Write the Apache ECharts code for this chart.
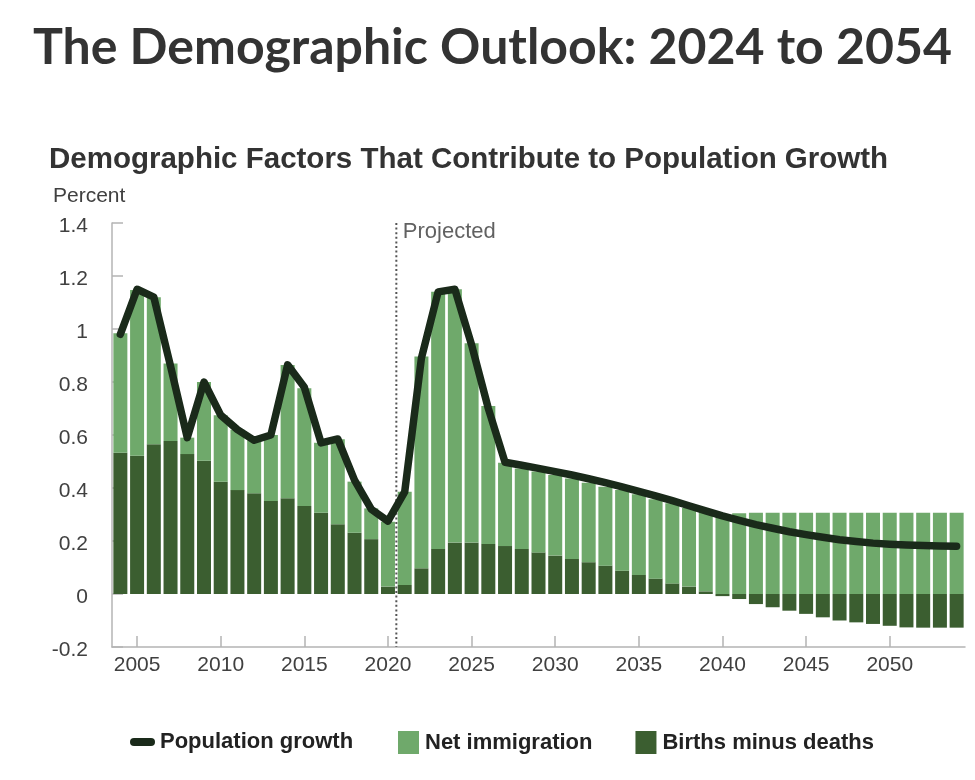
<!DOCTYPE html>
<html>
<head>
<meta charset="utf-8">
<script src="https://cdn.jsdelivr.net/npm/echarts@6/dist/echarts.min.js"></script>
<style>
  html, body { margin: 0; padding: 0; background: #fff; }
  #chart { width: 975px; height: 780px; }
</style>
</head>
<body>
<div id="chart"></div>
<script>
// years on the x axis, 2004 to 2054
var years = ['2004', '2005', '2006', '2007', '2008', '2009', '2010', '2011', '2012', '2013',
  '2014', '2015', '2016', '2017', '2018', '2019', '2020', '2021', '2022', '2023',
  '2024', '2025', '2026', '2027', '2028', '2029', '2030', '2031', '2032', '2033',
  '2034', '2035', '2036', '2037', '2038', '2039', '2040', '2041', '2042', '2043',
  '2044', '2045', '2046', '2047', '2048', '2049', '2050', '2051', '2052', '2053', '2054'];

// births minus deaths, percent
var birthsMinusDeaths = [0.533, 0.522, 0.565, 0.577, 0.528, 0.503, 0.424, 0.392, 0.380, 0.351,
  0.361, 0.332, 0.307, 0.263, 0.231, 0.207, 0.028, 0.034, 0.097, 0.170,
  0.194, 0.194, 0.189, 0.181, 0.170, 0.157, 0.145, 0.132, 0.120, 0.107,
  0.088, 0.072, 0.058, 0.040, 0.028, 0.010, -0.008, -0.019, -0.038, -0.050,
  -0.063, -0.075, -0.088, -0.100, -0.107, -0.113, -0.120, -0.126, -0.127, -0.127, -0.127];

// net immigration, percent
var netImmigration = [0.451, 0.625, 0.555, 0.293, 0.062, 0.297, 0.251, 0.228, 0.200, 0.249,
  0.503, 0.444, 0.264, 0.321, 0.193, 0.116, 0.245, 0.352, 0.799, 0.971,
  0.956, 0.752, 0.520, 0.314, 0.304, 0.305, 0.304, 0.304, 0.300, 0.298,
  0.304, 0.304, 0.300, 0.302, 0.297, 0.300, 0.302, 0.305, 0.307, 0.307,
  0.307, 0.307, 0.307, 0.307, 0.307, 0.307, 0.307, 0.307, 0.307, 0.307, 0.307];

// population growth, percent
var populationGrowth = [0.98, 1.15, 1.12, 0.86, 0.59, 0.80, 0.675, 0.62, 0.58, 0.60,
  0.865, 0.78, 0.57, 0.585, 0.43, 0.32, 0.275, 0.385, 0.89, 1.14,
  1.15, 0.94, 0.70, 0.497, 0.486, 0.474, 0.462, 0.449, 0.435, 0.420,
  0.404, 0.387, 0.370, 0.352, 0.333, 0.314, 0.295, 0.278, 0.262, 0.248,
  0.235, 0.224, 0.214, 0.205, 0.198, 0.192, 0.188, 0.185, 0.183, 0.181, 0.180];

// where the projection starts (between 2020 and 2021)
var projectedStart = 2020.5;

var lightGreen = '#6fa96b';
var darkGreen = '#3b5e30';
var lineColor = '#1a2a1a';
var axisColor = '#b4b4b4';
var textColor = '#404040';
var sans = '"Liberation Sans", Arial, sans-serif';

var chart = echarts.init(document.getElementById('chart'));

var legendText = { fontFamily: sans, fontWeight: 'bold', fontSize: 22, color: '#222' };

var option = {
  backgroundColor: '#fff',
  animation: false,
  title: [
    {
      text: 'The Demographic Outlook: 2024 to 2054',
      left: 28,
      top: 18,
      textStyle: { fontFamily: 'Lato', fontWeight: 'bold', fontSize: 50, color: '#333' }
    },
    {
      text: 'Demographic Factors That Contribute to Population Growth',
      left: 44,
      top: 140,
      textStyle: { fontFamily: sans, fontWeight: 'bold', fontSize: 29.5, color: '#333' }
    },
    {
      text: 'Percent',
      left: 48,
      top: 181,
      textStyle: { fontFamily: sans, fontWeight: 'normal', fontSize: 21, color: textColor }
    }
  ],
  legend: [
    {
      top: 726,
      left: 125,
      itemWidth: 25,
      itemHeight: 8,
      data: [
        { name: 'Population growth', icon: 'path://M4,0 L21,0 A4,4 0 0 1 21,8 L4,8 A4,4 0 0 1 4,0 Z' }
      ],
      textStyle: legendText
    },
    {
      top: 726,
      left: 393,
      itemGap: 43,
      itemWidth: 21,
      itemHeight: 23,
      data: [
        { name: 'Net immigration', icon: 'rect' },
        { name: 'Births minus deaths', icon: 'rect' }
      ],
      textStyle: Object.assign({ padding: [0, 0, 0, 1] }, legendText)
    }
  ],
  grid: {
    left: 112,
    right: 10,
    top: 223,
    bottom: 133
  },
  xAxis: [
    {
      type: 'category',
      data: years,
      boundaryGap: true,
      axisLine: { show: true, onZero: false, lineStyle: { color: axisColor, width: 1.5 } },
      axisTick: {
        show: true,
        inside: true,
        length: 11,
        alignWithLabel: true,
        interval: function (index) { return (index - 1) % 5 === 0; },
        lineStyle: { color: axisColor, width: 1.5 }
      },
      axisLabel: {
        interval: function (index) { return (index - 1) % 5 === 0; },
        margin: 8,
        fontFamily: sans,
        fontSize: 21,
        color: textColor
      },
      splitLine: { show: false }
    },
    {
      type: 'value',
      min: 2003.5,
      max: 2054.5,
      show: false
    }
  ],
  yAxis: {
    type: 'value',
    min: -0.2,
    max: 1.4,
    interval: 0.2,
    axisLine: { show: true, lineStyle: { color: axisColor, width: 1.5 } },
    axisTick: { show: true, inside: true, length: 11, lineStyle: { color: axisColor, width: 1.5 } },
    axisLabel: {
      margin: 24,
      formatter: function (v) { return '{v|' + v + '}'; },
      rich: {
        v: { padding: [7, 0, 0, 0], fontFamily: sans, fontSize: 21, color: textColor }
      }
    },
    splitLine: { show: false }
  },
  series: [
    {
      name: 'Births minus deaths',
      type: 'bar',
      stack: 'total',
      barWidth: 14,
      itemStyle: { color: darkGreen },
      data: birthsMinusDeaths
    },
    {
      name: 'Net immigration',
      type: 'bar',
      stack: 'total',
      barWidth: 14,
      itemStyle: { color: lightGreen },
      data: netImmigration
    },
    {
      name: 'projected-line',
      type: 'line',
      xAxisIndex: 1,
      symbol: 'none',
      silent: true,
      z: 5,
      lineStyle: { color: '#555', width: 2, type: [2, 2.6] },
      data: [[projectedStart, 1.4], [projectedStart, -0.2]]
    },
    {
      name: 'projected-label',
      type: 'scatter',
      xAxisIndex: 1,
      symbolSize: 1,
      silent: true,
      itemStyle: { color: 'rgba(0,0,0,0)' },
      label: {
        show: true,
        position: 'right',
        distance: 6,
        offset: [0, 9],
        formatter: 'Projected',
        fontFamily: sans,
        fontSize: 22,
        color: '#3a3a3a'
      },
      data: [[projectedStart, 1.4]]
    },
    {
      name: 'Population growth',
      type: 'line',
      symbol: 'none',
      z: 10,
      lineStyle: { color: lineColor, width: 7.5, cap: 'round', join: 'round' },
      itemStyle: { color: lineColor },
      data: populationGrowth
    }
  ]
};

chart.setOption(option);
</script>
</body>
</html>
